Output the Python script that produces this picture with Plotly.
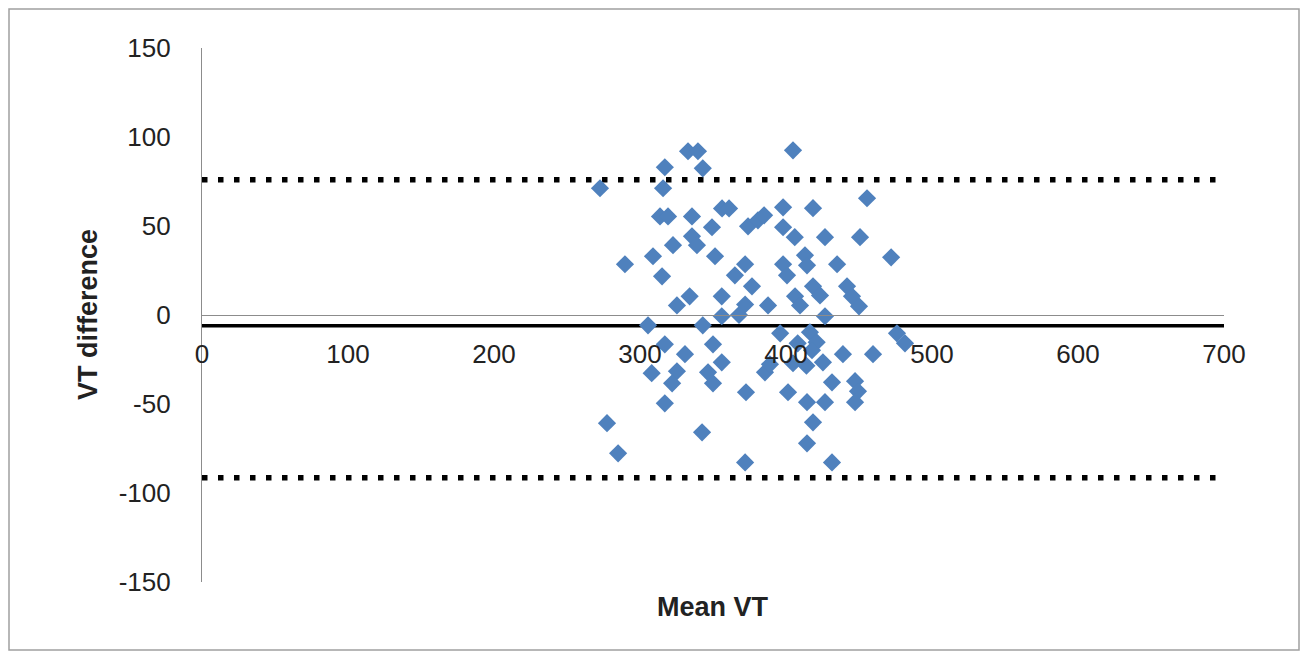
import plotly.graph_objects as go

# Bland-Altman data
mean_vt = [272.6, 332.9, 339.7, 343.0, 317.0, 315.8, 404.8, 455.5, 289.7, 313.7,
           319.2, 335.6, 349.3, 356.2, 361.0, 335.6, 339.0, 322.6, 308.9, 351.4,
           315.1, 372.0, 365.0, 374.0, 380.8, 385.0, 398.0, 398.0, 406.0, 418.5,
           426.7, 450.7, 472.0, 413.0, 414.4, 398.0, 400.7, 435.0, 418.5, 423.3,
           441.8, 445.2, 450.0, 406.2, 409.6, 387.7, 376.7, 372.0, 356.0, 356.0,
           367.8, 334.0, 325.3, 305.5, 343.0, 396.0, 416.4, 421.0, 408.0, 426.7,
           317.0, 350.0, 330.8, 325.3, 322.0, 308.0, 346.6, 350.0, 356.0, 404.8,
           417.8, 425.3, 439.0, 459.6, 385.6, 389.0, 431.5, 447.3, 449.3, 447.3,
           372.6, 401.4, 414.4, 426.7, 317.0, 277.4, 285.0, 342.5, 372.0, 431.5,
           414.4, 418.5, 476.0, 481.5, 414.0]
vt_diff = [71.2, 92.0, 92.0, 82.4, 83.0, 71.2, 92.5, 65.6, 28.5, 55.4,
           55.4, 55.4, 49.3, 59.9, 59.9, 44.2, 39.2, 39.2, 33.0, 33.0,
           21.7, 28.5, 22.3, 49.8, 53.2, 56.0, 60.5, 49.3, 43.7, 60.0,
           43.7, 43.7, 32.4, 33.5, 27.9, 28.5, 22.3, 28.5, 16.1, 11.0,
           16.1, 10.5, 4.9, 10.5, 5.4, 5.4, 16.1, 5.9, 10.5, -0.7,
           0.0, 10.5, 5.4, -5.8, -5.8, -10.3, -9.7, -15.3, -15.9, -0.7,
           -16.5, -16.5, -22.0, -31.6, -38.4, -32.7, -32.2, -38.4, -26.6, -27.1,
           -19.8, -26.6, -22.0, -22.0, -32.2, -27.7, -37.8, -37.2, -42.9, -49.0,
           -43.4, -43.4, -49.0, -49.0, -49.6, -60.8, -77.7, -65.9, -82.8, -82.8,
           -72.1, -60.3, -10.3, -15.9, -28.5]

mean_diff = -6.0
upper_loa = 76.0
lower_loa = -91.5
x_span = [0, 700]

x_ticks = [0, 100, 200, 300, 400, 500, 600, 700]
x_ticktext = ["0", "100", "200", "300", "400", "500", "600", "700"]
y_ticks = [-150, -100, -50, 0, 50, 100, 150]
y_ticktext = ["-150", "-100", "-50", "0", "50", "100", "150"]

FONT = "Liberation Sans"
TXT = "#222222"

# page body has an 8px margin: figure origin sits at (8, 8) in the window
OFF = 8
PL, PT, PW, PH = 202, 48, 1022, 534   # target plot-area box in window pixels

fig = go.Figure()

for lvl in (upper_loa, lower_loa):
    fig.add_trace(go.Scatter(
        x=x_span, y=[lvl, lvl], mode="lines",
        line=dict(color="black", width=5.5, dash="5.5px,10.5px"),
        showlegend=False, hoverinfo="skip"))
fig.add_trace(go.Scatter(
    x=x_span, y=[mean_diff, mean_diff], mode="lines",
    line=dict(color="black", width=3.5),
    showlegend=False, hoverinfo="skip"))

fig.add_trace(go.Scatter(
    x=mean_vt, y=vt_diff, mode="markers",
    marker=dict(symbol="diamond", size=14, color="#4F81BD",
                line=dict(width=0)),
    showlegend=False))

def px_x(p):
    return (p - PL) / PW

def px_y(p):
    return (PT + PH - p) / PH

fig.update_layout(
    width=1300, height=645,
    margin=dict(l=PL - OFF, r=1300 - (PL - OFF) - PW, t=PT - OFF,
                b=645 - (PT - OFF) - PH, autoexpand=False),
    paper_bgcolor="white", plot_bgcolor="white",
    font=dict(family=FONT, size=26, color=TXT),
    xaxis=dict(range=[0, 700], tickvals=x_ticks, ticktext=x_ticktext,
               showgrid=False, zeroline=False, showline=True,
               linecolor="#8c8c8c", linewidth=1.2, anchor="free",
               position=0.5, ticks="", ticklabelstandoff=16,
               tickfont=dict(family=FONT, size=26, color=TXT)),
    yaxis=dict(range=[-150, 150], tickvals=y_ticks, ticktext=y_ticktext,
               showgrid=False, zeroline=False, showline=True,
               linecolor="#8c8c8c", linewidth=1.2, ticks="",
               ticklabelstandoff=25,
               tickfont=dict(family=FONT, size=26, color=TXT)),
    annotations=[
        dict(text="<b>Mean VT</b>", xref="paper", yref="paper",
             x=px_x(713), y=px_y(607),
             showarrow=False, font=dict(family=FONT, size=27, color=TXT),
             xanchor="center", yanchor="middle"),
        dict(text="<b>VT difference</b>", xref="paper", yref="paper",
             x=px_x(88), y=px_y(315), textangle=-90,
             showarrow=False, font=dict(family=FONT, size=27, color=TXT),
             xanchor="center", yanchor="middle"),
    ],
    shapes=[dict(type="rect", xref="paper", yref="paper",
                 x0=px_x(9), x1=px_x(1299),
                 y0=px_y(650), y1=px_y(9),
                 line=dict(color="#a0a0a0", width=1.5), layer="below")],
)

fig.write_html("out.html")
